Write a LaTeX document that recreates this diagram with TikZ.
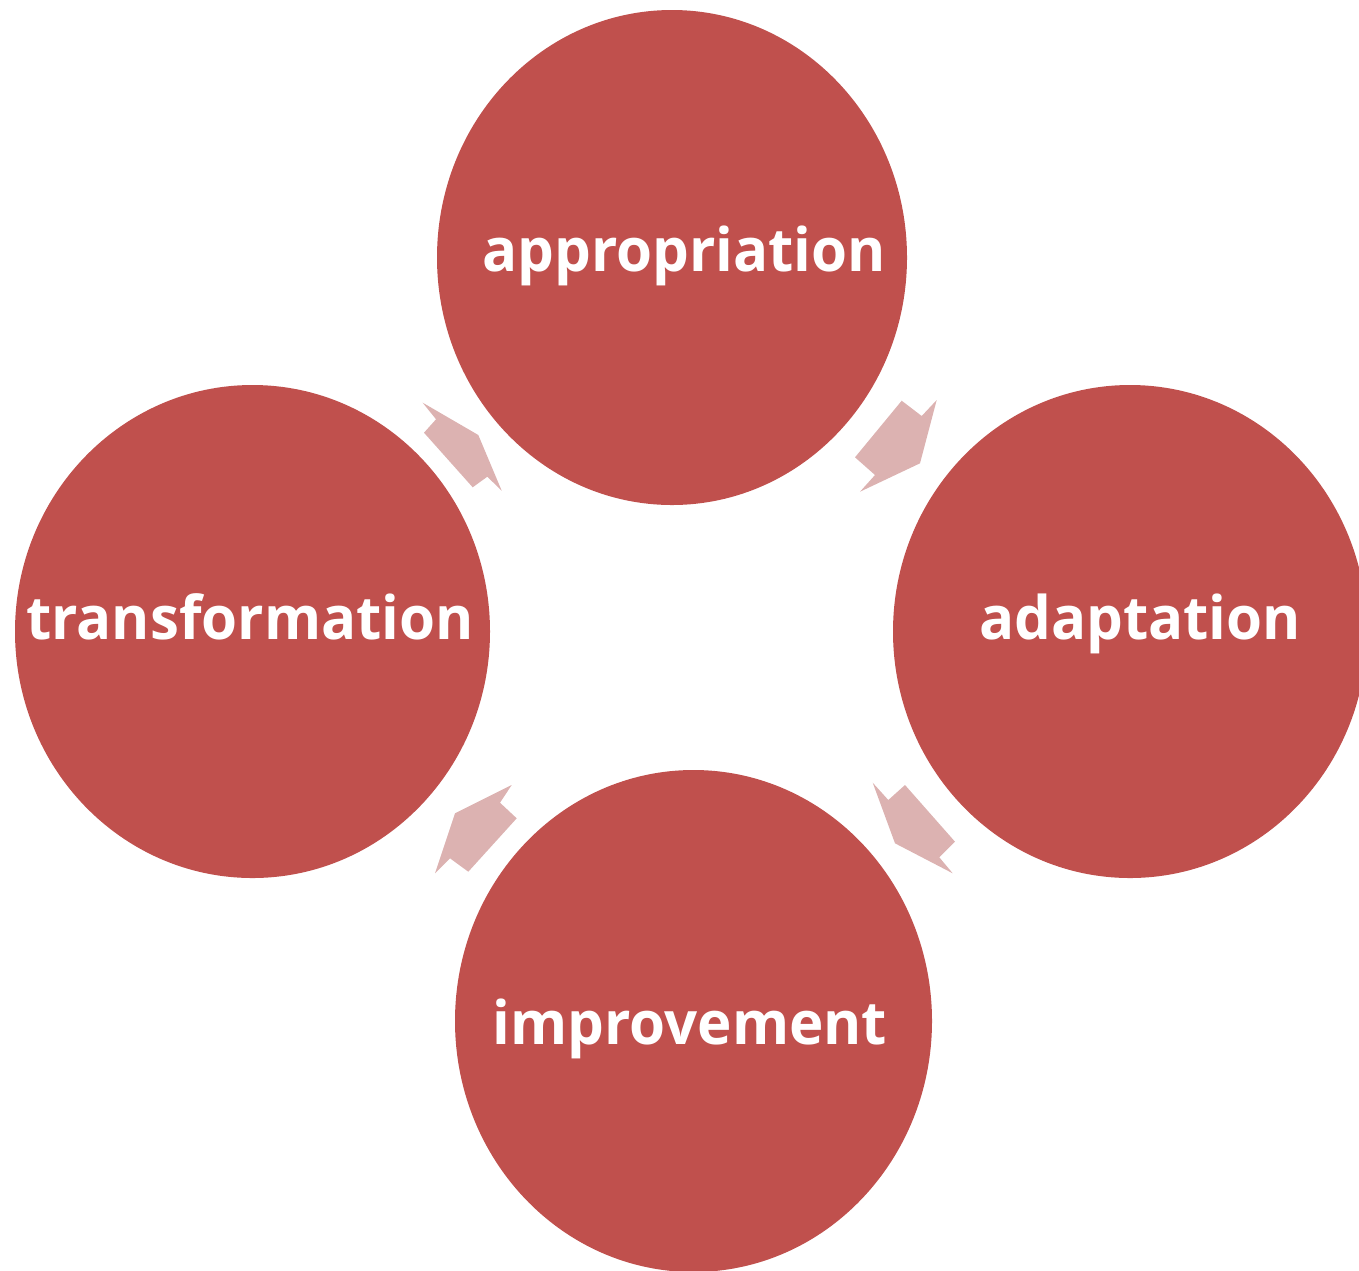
\documentclass[tikz,border=0pt]{standalone}
\usepackage{fontspec}
\setmainfont{Open Sans}[FakeStretch=0.97]
\usetikzlibrary{shapes.geometric}
\definecolor{circred}{RGB}{192,80,77}
\definecolor{arrowpink}{RGB}{220,178,177}
\tikzset{
  bubble/.style={ellipse, fill=circred, draw=none, inner sep=0pt, minimum width=#1},
  bubbletext/.style={anchor=base, text=white, inner sep=0pt, font=\fontsize{60}{66}\selectfont\bfseries},
  cyclearrow/.style={fill=arrowpink, draw=none}
}
\begin{document}
\begin{tikzpicture}[x=1pt, y=-1pt]
\useasboundingbox (0,0) rectangle (1359,1270);
\clip (0,0) rectangle (1359,1270);
% circles
\node[bubble=470pt, minimum height=495pt] (app) at (672,257.5) {};
\node[bubble=475pt, minimum height=493pt] (tra) at (252.5,631.5) {};
\node[bubble=474pt, minimum height=493pt] (ada) at (1130,631.5) {};
\node[bubble=477pt, minimum height=502pt] (imp) at (693.5,1021) {};
% labels
\node[bubbletext] (appt) at (684,271) {appropriation};
\node[bubbletext] (trat) at (250,639) {transformation};
\node[bubbletext] (adat) at (1140,639) {adaptation};
\node[bubbletext] (impt) at (690,1044) {improvement};
% arrows
\fill[cyclearrow] (422.7,402.7) -- (478.3,435) -- (501.7,490.7) -- (487.3,476.7) -- (472.7,487.3) -- (424,432.7) -- (436,419.3) -- cycle;
\fill[cyclearrow] (901.7,400.7) -- (921.7,416) -- (936.7,400) -- (920,463.3) -- (860,491.7) -- (875,475) -- (855,457.3) -- cycle;
\fill[cyclearrow] (872.7,782.7) -- (888.3,800) -- (905,785) -- (955,841.7) -- (939.3,857.3) -- (952.7,873.3) -- (895,843.3) -- cycle;
\fill[cyclearrow] (511.7,785) -- (500,802.7) -- (516.7,818.3) -- (468.3,871.7) -- (450,858.3) -- (435,873.3) -- (455,813.3) -- cycle;
\end{tikzpicture}
\end{document}
